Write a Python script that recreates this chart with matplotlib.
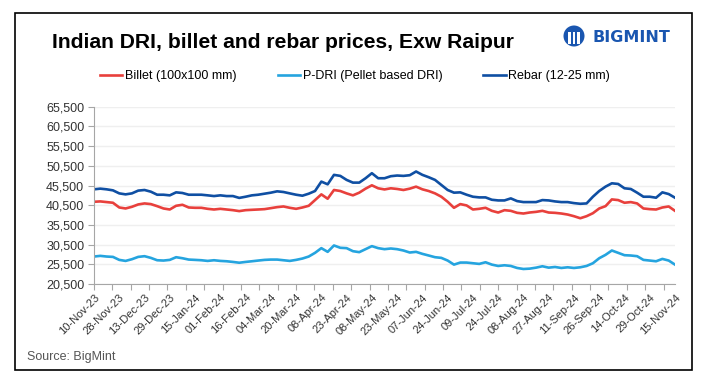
import numpy as np
import matplotlib
matplotlib.use('Agg')
import matplotlib.pyplot as plt
from matplotlib.patches import Rectangle, Circle

# tick labels on the category axis (one label every 11 trading days)
date_labels = ['10-Nov-23', '28-Nov-23', '13-Dec-23', '29-Dec-23', '15-Jan-24', '01-Feb-24',
               '16-Feb-24', '04-Mar-24', '20-Mar-24', '08-Apr-24', '23-Apr-24', '08-May-24',
               '23-May-24', '07-Jun-24', '24-Jun-24', '09-Jul-24', '24-Jul-24', '08-Aug-24',
               '27-Aug-24', '11-Sep-24', '26-Sep-24', '14-Oct-24', '29-Oct-24', '15-Nov-24']
n_days = 254          # trading days on the axis
label_every = 11
tick_every = 8

billet = [41370, 41460, 41290, 41120, 39920, 39670, 40090, 40690, 40950, 40780, 40260, 39670,
          39410, 40350, 40610, 39920, 39840, 39840, 39580, 39410, 39580, 39410, 39240, 39000,
          39240, 39330, 39410, 39500, 39750, 40010, 40180, 39840, 39580, 39920, 40350, 41800,
          43250, 42140, 44360, 44100, 43500, 43000, 43680, 44700, 45550, 44790, 44500,
          44790, 44620, 44360, 44700, 45210, 44530, 44100, 43500, 42650, 41370, 39840, 40780,
          40440, 39410, 39580, 39840, 39070, 38640, 39240, 39070, 38560, 38390, 38650,
          38810, 39070, 38640, 38560, 38390, 38130, 37710, 37190, 37710, 38470, 39670, 40260,
          41970, 41800, 41120, 41290, 40950, 39670, 39500, 39410, 39920, 40180, 39070]
p_dri = [27470, 27640, 27470, 27380, 26620, 26360, 26790, 27380, 27560, 27130, 26530, 26450,
         26620, 27300, 27040, 26700, 26620, 26530, 26360, 26530, 26360, 26270, 26100, 25900,
         26100, 26270, 26450, 26620, 26700, 26700, 26530, 26360, 26620, 26960, 27470, 28410,
         29600, 28660, 30280, 29690, 29600, 28830, 28580, 29340, 30110, 29600, 29340,
         29510, 29340, 29000, 28490, 28660, 28150, 27730, 27300, 27130, 26450, 25420, 25940,
         25940, 25770, 25600, 26020, 25420, 25080, 25250, 25080, 24570, 24310, 24400,
         24650, 25000, 24650, 24820, 24570, 24740, 24570, 24740, 25080, 25770, 27040, 27900,
         29000, 28410, 27810, 27730, 27560, 26620, 26450, 26270, 26870, 26450, 25420]
rebar = [44530, 44700, 44530, 44270, 43500, 43250, 43500, 44200, 44360, 43930, 43160, 43160,
         43000, 43760, 43600, 43160, 43160, 43160, 43000, 42820, 43000, 42820, 42820, 42350,
         42650, 43000, 43160, 43420, 43680, 44020, 43850, 43500, 43160, 42910, 43420, 44100,
         46490, 45800, 48200, 47940, 46920, 46230, 46230, 47340, 48620, 47340, 47340,
         47860, 48030, 47940, 48110, 49050, 48200, 47600, 46920, 45640, 44360, 43680, 43760,
         43160, 42650, 42480, 42480, 41880, 41710, 41710, 42230, 41540, 41290, 41290,
         41290, 41800, 41710, 41460, 41290, 41290, 41030, 40860, 40950, 42650, 44100, 45210,
         46060, 45890, 44790, 44620, 43680, 42650, 42650, 42400, 43760, 43330, 42400]

series = [('Billet (100x100 mm)', billet, '#e8403c'),
          ('P-DRI (Pellet based DRI)', p_dri, '#25a4df'),
          ('Rebar (12-25 mm)', rebar, '#0f4fa3')]

plt.rcParams['font.family'] = ['Liberation Sans', 'DejaVu Sans']

fig = plt.figure(figsize=(7.1, 3.92), dpi=100)
ax = fig.add_axes([94 / 710, 1 - 284 / 392, 581 / 710, 177.3 / 392])

x = np.linspace(0, n_days - 1, len(billet))
for name, vals, col in series:
    ax.plot(x, vals, color=col, lw=1.9, label=name, solid_joinstyle='round')

ax.set_xlim(0, n_days - 1)
ax.set_ylim(20500, 65500)
ax.set_yticks(np.arange(20500, 65501, 5000))
ax.set_yticklabels([f'{v:,}' for v in range(20500, 65501, 5000)])
ax.grid(axis='y', color='#efefef', lw=1)
ax.set_axisbelow(True)

# ticks every 8 days, labels every 11 days (like the original Excel axis)
ax.xaxis.remove_overlapping_locs = False
ax.set_xticks(np.arange(0, n_days, tick_every))
ax.set_xticklabels([])
ax.set_xticks(np.arange(len(date_labels)) * label_every, minor=True)
ax.set_xticklabels(date_labels, minor=True, rotation=45, ha='right',
                   rotation_mode='anchor', fontsize=8, color='#333333')
ax.tick_params(axis='x', which='major', length=4, color='#a6a6a6', direction='out')
ax.tick_params(axis='x', which='minor', length=0, pad=6)
ax.tick_params(axis='y', length=4, color='#a6a6a6', labelsize=9, labelcolor='#333333', pad=3)

for s in ['top', 'right']:
    ax.spines[s].set_visible(False)
for s in ['left', 'bottom']:
    ax.spines[s].set_color('#a6a6a6')

fig.legend(loc='center', bbox_to_anchor=(0.5, 1 - 76 / 392), ncol=3, frameon=False,
           fontsize=9, handlelength=1.8, handletextpad=0.2, columnspacing=3.3)

fig.text(52 / 710, 1 - 42 / 392, 'Indian DRI, billet and rebar prices, Exw Raipur',
         fontsize=15.2, fontweight='bold', va='center', ha='left', color='black')
fig.text(27 / 710, 1 - 357 / 392, 'Source: BigMint', fontsize=9, color='#555555',
         va='center', ha='left')

# logo
fig.text(592 / 710, 1 - 38 / 392, 'BIGMINT', fontsize=11.5, fontweight='bold',
         family='DejaVu Sans', color='#1a56b0', va='center', ha='left')
logo = Circle((574, 392 - 36), 10.5, transform=None, facecolor='#1a56b0', edgecolor='none')
fig.patches.append(logo)
for dx in (-4.5, 0, 4.5):
    fig.patches.append(Rectangle((574 + dx - 1.2, 392 - 44), 2.4, 12, transform=None,
                                 facecolor='white', edgecolor='none'))

fig.patches.append(Rectangle((15.3 / 710, 1 - 370 / 392), (692.3 - 15.3) / 710,
                             (370 - 12.7) / 392, transform=fig.transFigure,
                             fill=False, edgecolor='black', lw=1.2))

fig.savefig('out.png', dpi=100)
